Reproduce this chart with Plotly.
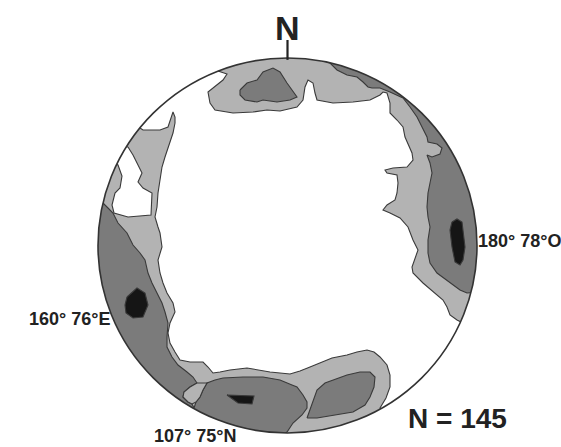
import plotly.graph_objects as go
import math

# Net frame used for digitising (source picture units): centre and radii
CX, CY, RX, RY = 287.5, 245.5, 189.5, 187.5
W, H = 561, 447

# Contour polygons (digitised outlines, x right / y down)
WHITE_CENTRAL = [
    (140,128),(143,130),(160,130),(168,127),(170,121),(173,112),(175,117),(175,123),(173,133),(168,147),
    (165,157),(162,167),(160,180),(158,193),(157,207),(155,217),(158,227),(160,233),(162,247),(158,260),
    (160,273),(163,283),(167,293),(173,303),(175,312),(170,323),(168,333),(170,343),(175,352),(180,360),
    (190,362),(203,362),(208,367),(213,373),(220,372),(230,370),(247,368),(270,372),(290,374),(300,371),
    (310,367),(320,363),(332,358),(347,355),(357,352),(367,350),(374,352),(380,357),(387,365),(390,375),
    (390,387),(386,398),(380,408),(400,420),(480,340),(461,322),
    (457,320),(450,315),(447,307),(443,300),(437,295),(430,289),(423,283),(413,273),(412,267),(418,250),
    (413,240),(408,227),(400,218),(390,213),(383,210),(387,205),(395,200),(397,193),(398,183),(397,175),
    (387,173),(385,170),(393,168),(407,167),(413,160),(412,153),(408,143),(405,137),(403,127),(397,120),
    (390,113),(390,103),(387,93),(383,92),(380,95),(370,100),(353,102),(333,103),(317,100),(315,93),
    (313,83),(308,80),(305,87),(303,100),(297,107),(280,111),(267,110),(253,112),(233,113),(215,110),
    (210,103),(208,92),(223,80),(227,74),(218,71),(200,55),(120,110),
]
WHITE_NOTCH = [
    (128,147),(133,155),(138,165),(142,173),(138,182),(143,188),(152,193),(151,215),(128,217),(114,213),
    (112,205),(115,193),(120,188),(122,176),(118,165),(108,160),(112,143),
]
LIGHT_WEDGE = [(197,383),(207,383),(203,390),(200,397),(196,402),(192,404),(188,402),(183,397),(184,392),(190,387)]
MED_NORTH = [
    (240,90),(247,83),(257,80),(263,72),(273,68),(280,72),(287,83),(292,90),(297,97),(290,100),
    (277,102),(263,100),(257,102),(245,100),(240,95),
]
MED_EAST = [
    (320,50),(327,62),(330,63),(337,70),(347,75),(357,77),(363,82),(368,87),(372,88),(380,88),
    (390,92),(403,98),(410,107),(417,117),(422,127),(427,137),(428,142),(437,144),(442,148),(440,154),
    (432,157),(427,155),(430,163),(432,173),(430,183),(428,193),(427,207),(428,217),(430,227),(428,240),
    (428,253),(430,263),(437,273),(450,283),(460,290),(467,293),(480,292),(500,240),(485,150),(420,75),
    (340,45),
]
MED_WEST = [
    (92,195),(103,203),(108,208),(113,213),(118,223),(127,233),(133,245),(140,253),(145,260),(148,273),
    (152,283),(157,293),(162,303),(165,312),(168,323),(167,337),(167,347),(172,357),(178,365),(187,372),
    (193,377),(197,383),(190,387),(184,392),(183,397),(188,402),(192,404),(194,408),(180,425),(85,330),
    (80,200),
]
MED_SOUTH_W = [
    (194,408),(196,402),(200,397),(203,390),(207,383),(215,380),(223,378),(243,377),(263,377),(280,380),
    (292,385),(297,387),(303,395),(307,402),(307,408),(302,415),(293,423),(287,432),(270,445),(190,430),
]
MED_SOUTH_E = [
    (307,418),(310,410),(313,400),(317,390),(325,383),(335,379),(347,375),(360,372),(370,372),(375,377),
    (374,387),(370,397),(365,405),(353,412),(335,415),(317,418),
]
DARK_EAST = [(452,222),(457,219),(462,222),(463,233),(465,247),(463,260),(460,265),(455,262),(452,247),(450,230)]
DARK_WEST = [(127,297),(137,288),(145,293),(148,305),(143,317),(133,318),(126,313),(125,305)]
DARK_SOUTH = [(227,395),(254,396),(252,404),(238,403)]

LABELS = ["160° 76°E", "180° 78°O", "107° 75°N", "N = 145"]

LIGHT, MED, DARK, EDGE = "#b3b3b3", "#7b7b7b", "#151515", "#3a3a3a"


def nx(x):
    return (x - CX) / RX


def ny(y):
    return (CY - y) / RY


fig = go.Figure()


def add_poly(pts, color):
    xs = [nx(p[0]) for p in pts] + [nx(pts[0][0])]
    ys = [ny(p[1]) for p in pts] + [ny(pts[0][1])]
    fig.add_trace(go.Scatter(x=xs, y=ys, mode="lines", fill="toself", fillcolor=color,
                             line=dict(color=EDGE, width=1.1), hoverinfo="skip", showlegend=False))


for poly in (WHITE_CENTRAL, WHITE_NOTCH):
    add_poly(poly, "white")
for poly in (MED_NORTH, MED_EAST, MED_WEST, MED_SOUTH_W, MED_SOUTH_E):
    add_poly(poly, MED)
add_poly(LIGHT_WEDGE, LIGHT)
for poly in (DARK_EAST, DARK_WEST, DARK_SOUTH):
    add_poly(poly, DARK)

xr = [nx(0), nx(W)]
yr = [ny(H), ny(0)]

# light background disk
fig.add_shape(type="circle", xref="x", yref="y", x0=-1, x1=1, y0=-1, y1=1,
              fillcolor=LIGHT, line=dict(width=0), layer="below")

# white mask outside the net
n = 240
circ = " ".join(("M" if i == 0 else "L") + f"{math.cos(2*math.pi*i/n):.4f},{math.sin(2*math.pi*i/n):.4f}"
                for i in range(n)) + " Z"
rect = f"M{xr[0]-1},{yr[0]-1} L{xr[1]+1},{yr[0]-1} L{xr[1]+1},{yr[1]+1} L{xr[0]-1},{yr[1]+1} Z"
fig.add_shape(type="path", xref="x", yref="y", path=rect + " " + circ, fillcolor="white",
              fillrule="evenodd", line=dict(width=0), layer="above")
fig.add_shape(type="circle", xref="x", yref="y", x0=-1, x1=1, y0=-1, y1=1,
              line=dict(color="#333333", width=1.6), layer="above")
fig.add_shape(type="line", xref="x", yref="y", x0=0, x1=0, y0=0.99, y1=ny(40),
              line=dict(color="#222222", width=2.2), layer="above")

font = dict(family="Arial, Liberation Sans, sans-serif", color="#222222", weight="bold")
fig.add_annotation(x=0, y=ny(28), text="N", showarrow=False, font=dict(font, size=34))
fig.add_annotation(x=nx(69), y=ny(319), text=LABELS[0], showarrow=False, font=dict(font, size=18))
fig.add_annotation(x=nx(519), y=ny(241), text=LABELS[1], showarrow=False, font=dict(font, size=18))
fig.add_annotation(x=nx(195), y=ny(436), text=LABELS[2], showarrow=False, font=dict(font, size=18))
fig.add_annotation(x=nx(457), y=ny(418), text=LABELS[3], showarrow=False, font=dict(font, size=28))

fig.update_layout(width=W, height=H, margin=dict(l=0, r=0, t=0, b=0),
                  paper_bgcolor="white", plot_bgcolor="white", showlegend=False,
                  xaxis=dict(range=xr, visible=False, fixedrange=True),
                  yaxis=dict(range=yr, visible=False, fixedrange=True))

fig.write_html("out.html", config={"displayModeBar": False},
               post_script="document.body.style.margin='0';document.body.style.overflow='hidden';")
